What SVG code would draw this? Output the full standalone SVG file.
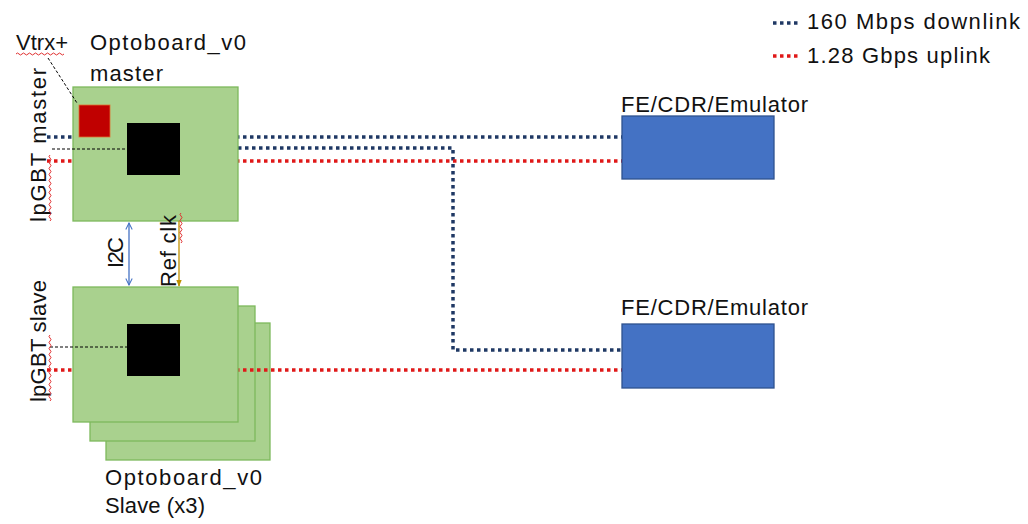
<svg xmlns="http://www.w3.org/2000/svg" width="1028" height="524" viewBox="0 0 1028 524">
<style>
text{font-family:"Liberation Sans",Arial,sans-serif;font-size:22px;fill:#111}
.board{fill:#A9D18E;stroke:#7DB95C;stroke-width:1.3}
.chip{fill:#000}
.fe{fill:#4472C4;stroke:#2F528F;stroke-width:1.3}
.dl{fill:none;stroke:#1F3864;stroke-width:3.5;stroke-dasharray:3.5 3.5}
.ul{fill:none;stroke:#E01818;stroke-width:3.5;stroke-dasharray:3.5 3.5}
.lead{fill:none;stroke:#000;stroke-width:1;stroke-dasharray:3 2}
.sq{fill:none;stroke:#E03030;stroke-width:1}
</style>
<defs>
<marker id="ab" viewBox="0 0 10 10" refX="9" refY="5" markerWidth="8" markerHeight="8" orient="auto-start-reverse" markerUnits="userSpaceOnUse"><path d="M1,1 L9,5 L1,9" fill="none" stroke="#4472C4" stroke-width="1.3"/></marker>
<marker id="ao" viewBox="0 0 10 10" refX="9" refY="5" markerWidth="7" markerHeight="7" orient="auto" markerUnits="userSpaceOnUse"><path d="M0,1 L10,5 L0,9 Z" fill="#BF9000"/></marker>
</defs>
<rect width="1028" height="524" fill="#fff"/>

<g id="slave3"><rect class="board" x="106" y="323" width="164" height="137"/></g>
<g id="slave2"><rect class="board" x="90" y="306" width="165" height="135"/></g>

<g id="connectors">
<path class="dl" d="M47,137 H622"/>
<path class="dl" d="M238,148 H453 V350 H622"/>
<path class="ul" d="M47,161 H622"/>
<path class="ul" d="M47,370 H622"/>
</g>

<g id="slave1">
<rect class="board" x="73" y="287" width="165" height="135"/>
<rect class="chip" x="127" y="324" width="53" height="52"/>
<path class="lead" d="M50,347 H127"/>
</g>

<g id="master">
<rect class="board" x="73" y="87" width="165" height="134"/>
<rect x="79" y="105" width="31" height="32" fill="#C00000" stroke="#E07030" stroke-width="0.8"/>
<rect class="chip" x="127" y="123" width="53" height="52"/>
<path class="lead" d="M52,149 H127"/>
<path class="lead" d="M48,58 L77,103"/>
</g>

<g id="links">
<path d="M129,223 V285" stroke="#4472C4" stroke-width="1.3" fill="none" marker-start="url(#ab)" marker-end="url(#ab)"/>
<path d="M179,221 V286" stroke="#BF9000" stroke-width="1.3" fill="none" marker-end="url(#ao)"/>
</g>

<g id="fe1"><rect class="fe" x="622" y="116" width="152" height="63"/><text x="621" y="112" textLength="187" lengthAdjust="spacing">FE/CDR/Emulator</text></g>
<g id="fe2"><rect class="fe" x="622" y="324" width="152" height="64"/><text x="621" y="315" textLength="187" lengthAdjust="spacing">FE/CDR/Emulator</text></g>

<g id="labels">
<text x="16" y="50" textLength="52" lengthAdjust="spacing">Vtrx+</text>
<text x="90" y="50" textLength="156" lengthAdjust="spacing">Optoboard_v0</text>
<text x="90" y="81" textLength="73" lengthAdjust="spacing">master</text>
<text x="105" y="485" textLength="157" lengthAdjust="spacing">Optoboard_v0</text>
<text x="105" y="513" textLength="100" lengthAdjust="spacing">Slave (x3)</text>
<text transform="translate(46 222) rotate(-90)" textLength="154" lengthAdjust="spacing">lpGBT master</text>
<text transform="translate(46 402) rotate(-90)" textLength="122" lengthAdjust="spacing">lpGBT slave</text>
<text transform="translate(123 268) rotate(-90)" textLength="31" lengthAdjust="spacing">I2C</text>
<text transform="translate(176 287) rotate(-90)" textLength="72" lengthAdjust="spacing">Ref clk</text>
</g>

<g id="spell">
<path class="sq" d="M16,54 q1.5,-2 3,0 t3,0 t3,0 t3,0 t3,0 t3,0 t3,0 t3,0 t3,0 t3,0 t3,0 t3,0 t3,0 t3,0 t3,0 t3,0"/>
<path class="sq" d="M50,155 q-2,1.5 0,3 t0,3 t0,3 t0,3 t0,3 t0,3 t0,3 t0,3 t0,3 t0,3 t0,3 t0,3 t0,3 t0,3 t0,3 t0,3 t0,3 t0,3 t0,3 t0,3 t0,3 t0,3"/>
<path class="sq" d="M50,335 q-2,1.5 0,3 t0,3 t0,3 t0,3 t0,3 t0,3 t0,3 t0,3 t0,3 t0,3 t0,3 t0,3 t0,3 t0,3 t0,3 t0,3 t0,3 t0,3 t0,3 t0,3 t0,3 t0,3"/>
<path class="sq" d="M181,213 q-2,1.5 0,3 t0,3 t0,3 t0,3 t0,3 t0,3 t0,3 t0,3 t0,3 t0,3"/>
</g>

<g id="legend">
<path class="dl" d="M773,23 H799"/>
<text x="807" y="29" textLength="213" lengthAdjust="spacing">160 Mbps downlink</text>
<path class="ul" d="M773,56 H799"/>
<text x="807" y="63" textLength="183" lengthAdjust="spacing">1.28 Gbps uplink</text>
</g>
</svg>
